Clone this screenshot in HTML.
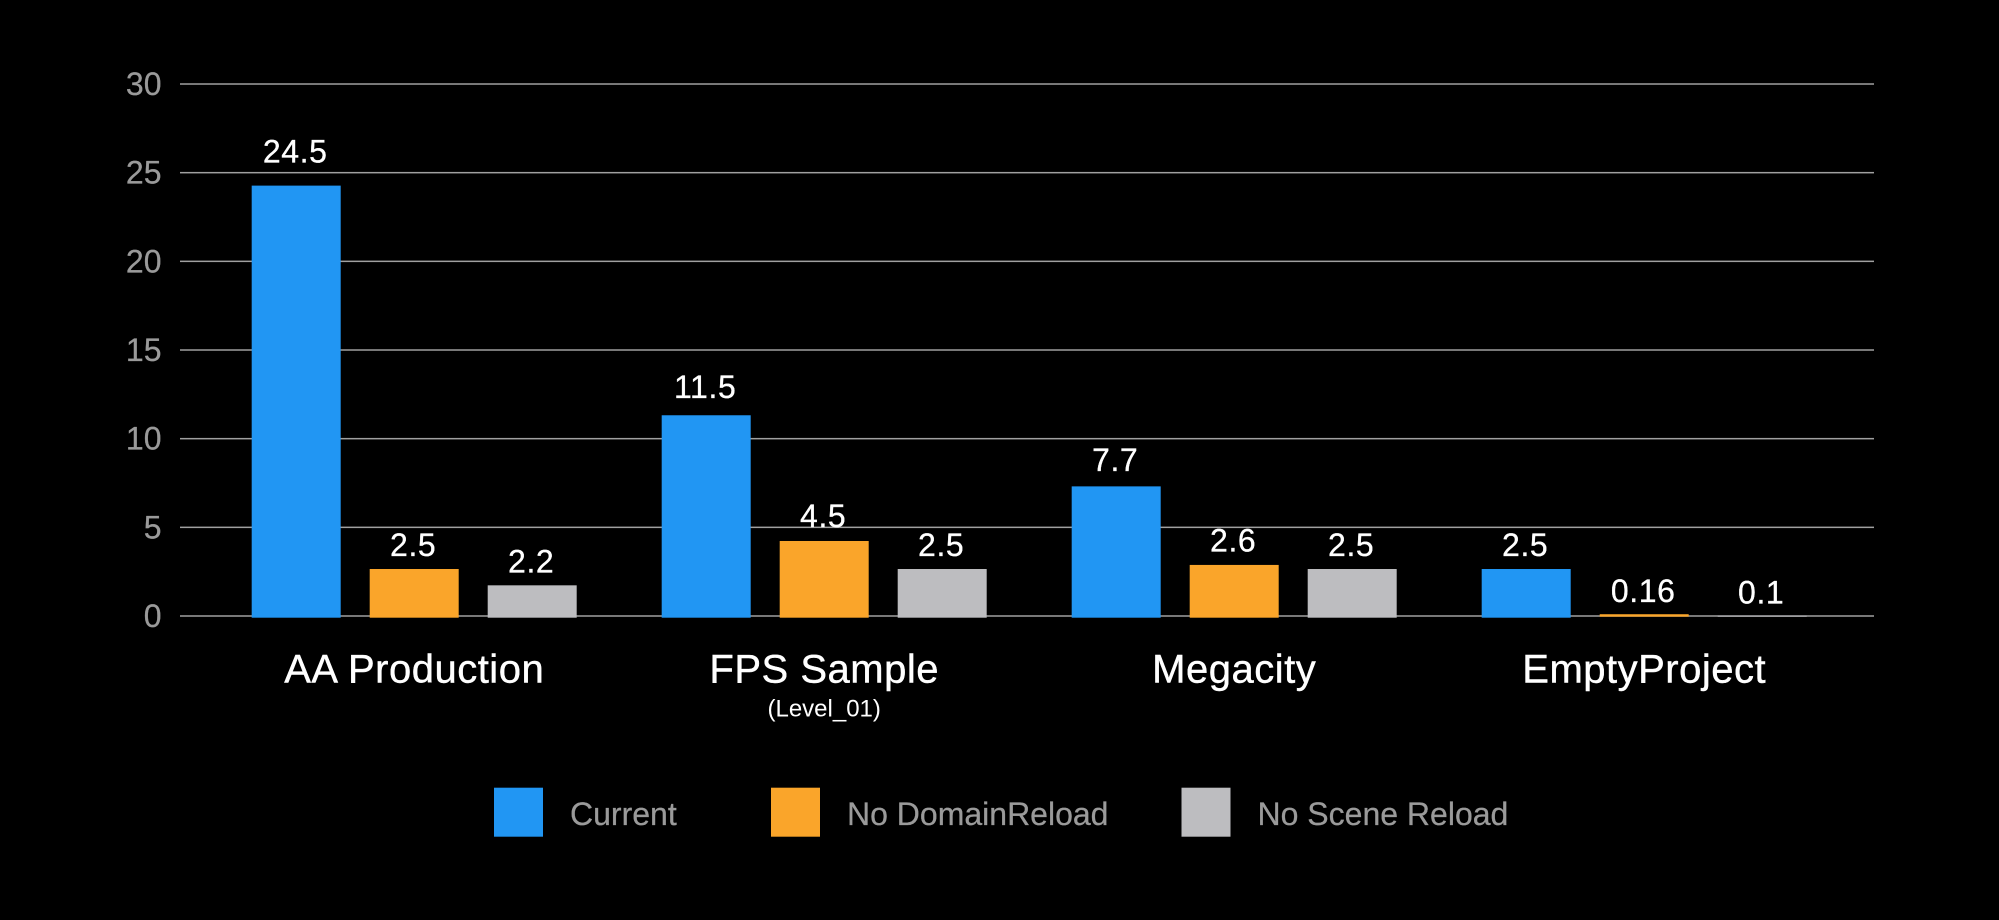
<!DOCTYPE html>
<html lang="en">
<head>
<meta charset="utf-8">
<title>Reload times by project</title>
<style>
  html, body { margin: 0; padding: 0; background: #000; }
  body { width: 1999px; height: 920px; overflow: hidden; }
  svg { display: block; }
  text { font-family: "Liberation Sans", sans-serif; }
  .tick { font-size: 32px; fill: #9a9a9a; text-anchor: end; stroke: #9a9a9a; stroke-width: .25px; }
  .value { font-size: 32px; fill: #fff; text-anchor: middle; letter-spacing: .6px; stroke: #fff; stroke-width: .3px; }
  .cat { font-size: 40px; fill: #fff; text-anchor: middle; letter-spacing: .5px; stroke: #fff; stroke-width: .4px; }
  .sub { font-size: 24px; fill: #fff; text-anchor: middle; }
  .leg { font-size: 32px; fill: #9a9a9a; stroke: #9a9a9a; stroke-width: .25px; }
</style>
</head>
<body>
<svg id="chart" width="1999" height="920" viewBox="0 0 1999 920" xmlns="http://www.w3.org/2000/svg">
  <rect x="0" y="0" width="1999" height="920" fill="#000"/>
</svg>
<script>
const categories = ["AA Production", "FPS Sample", "Megacity", "EmptyProject"];
const categorySubtitles = ["", "(Level_01)", "", ""];
const seriesNames = ["Current", "No DomainReload", "No Scene Reload"];
const currentValues = [24.27, 11.32, 7.31, 2.65];
const noDomainReloadValues = [2.65, 4.23, 2.88, 0.1];
const noSceneReloadValues = [1.73, 2.65, 2.65, 0.02];
const currentLabels = ["24.5", "11.5", "7.7", "2.5"];
const noDomainReloadLabels = ["2.5", "4.5", "2.6", "0.16"];
const noSceneReloadLabels = ["2.2", "2.5", "2.5", "0.1"];
const tickValues = [0, 5, 10, 15, 20, 25, 30];

const seriesValues = [currentValues, noDomainReloadValues, noSceneReloadValues];
const seriesLabels = [currentLabels, noDomainReloadLabels, noSceneReloadLabels];
const seriesColors = ["#2196f3", "#faa52a", "#bdbdc0"];

const svg = document.getElementById("chart");
const NS = "http://www.w3.org/2000/svg";
const plotLeft = 180, plotRight = 1874, yZero = 616, unitHeight = 17.733;
const groupStart = 251.7, groupStep = 410, barStep = 118, barWidth = 89;

function yScale(v) { return yZero - v * unitHeight; }
function barX(group, series) { return groupStart + group * groupStep + series * barStep; }
function groupCenter(group) { return barX(group, 1) + barWidth / 2; }
function labelLift(v) { return 12 + 0.45 * v; }
function make(tag, cls) {
  const el = document.createElementNS(NS, tag);
  if (cls) el.setAttribute("class", cls);
  svg.appendChild(el);
  return el;
}

// Gridlines and y-axis tick labels
tickValues.forEach(function (t) {
  const line = make("rect");
  
  
  line.setAttribute("x", plotLeft);
  line.setAttribute("y", yScale(t) - 0.75);
  line.setAttribute("width", plotRight - plotLeft);
  line.setAttribute("height", 1.5);
  line.setAttribute("fill", "#a0a0a0");

  const label = make("text", "tick");
  
  
  label.setAttribute("x", 161.5);
  label.setAttribute("y", yScale(t) + 11);
  label.textContent = t;
});

// Bars and value labels
seriesValues.forEach(function (values, s) {
  values.forEach(function (v, g) {
    const top = yScale(v);
    const overhang = v < 0.5 ? 0.7 : 1.7;
    const bar = make("rect");
    
    
    bar.setAttribute("x", barX(g, s));
    bar.setAttribute("y", top);
    bar.setAttribute("width", barWidth);
    bar.setAttribute("height", yZero + overhang - top);
    bar.setAttribute("fill", seriesColors[s]);

    const label = make("text", "value");
    
    
    label.setAttribute("x", barX(g, s) + barWidth / 2 - 1);
    label.setAttribute("y", top - labelLift(v));
    label.textContent = seriesLabels[s][g];
  });
});

// Category labels
categories.forEach(function (name, g) {
  const cat = make("text", "cat");
  
  
  cat.setAttribute("x", groupCenter(g));
  cat.setAttribute("y", 682.7);
  cat.textContent = name;
  if (categorySubtitles[g]) {
    const sub = make("text", "sub");
    
    
    sub.setAttribute("x", groupCenter(g));
    sub.setAttribute("y", 716.7);
    sub.textContent = categorySubtitles[g];
  }
});

// Legend
const legendSwatchX = [494, 771, 1181.5];
seriesNames.forEach(function (name, s) {
  const swatch = make("rect");
  
  
  swatch.setAttribute("x", legendSwatchX[s]);
  swatch.setAttribute("y", 787.7);
  swatch.setAttribute("width", 49);
  swatch.setAttribute("height", 49);
  swatch.setAttribute("fill", seriesColors[s]);

  const text = make("text", "leg");
  
  
  text.setAttribute("x", legendSwatchX[s] + 76);
  text.setAttribute("y", 825);
  text.textContent = name;
});
</script>
</body>
</html>
